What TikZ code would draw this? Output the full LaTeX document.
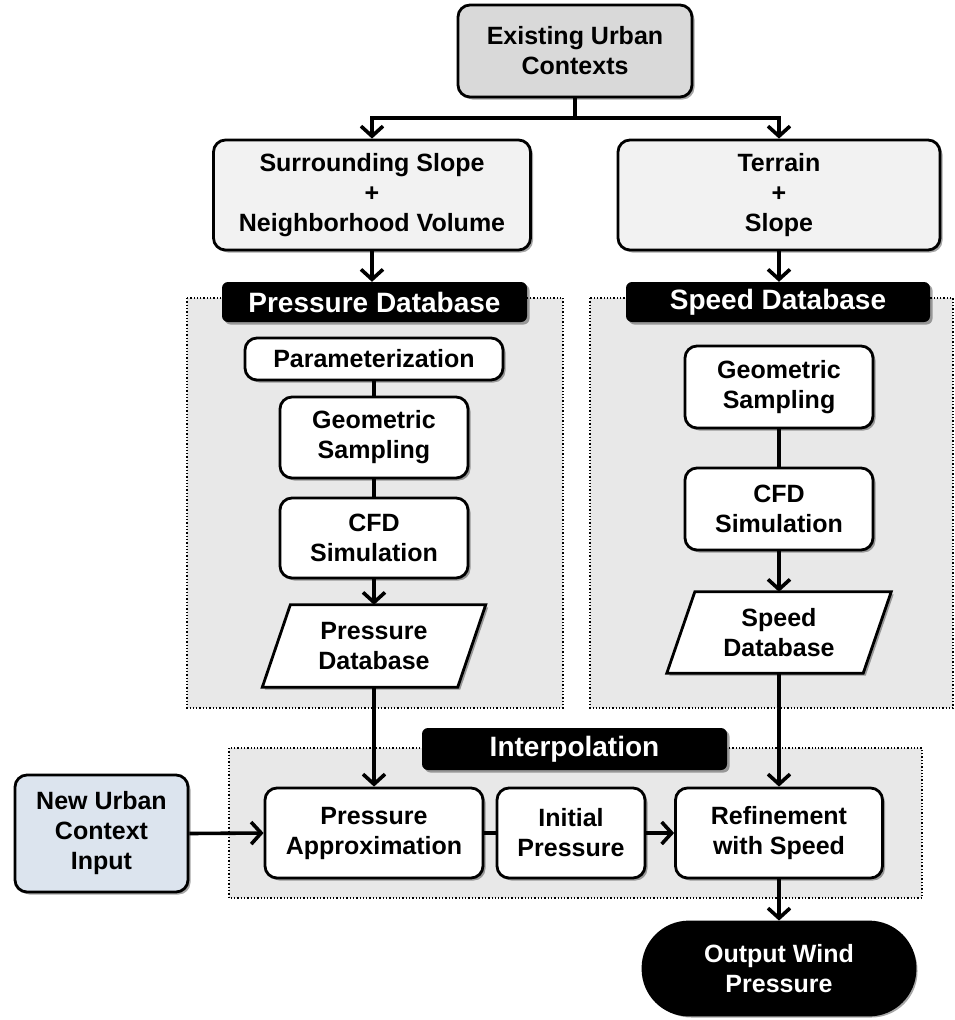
\documentclass[tikz,border=0pt]{standalone}
\usepackage{fontspec}
\setmainfont{Liberation Sans}
\usetikzlibrary{arrows.meta,shadows}
\definecolor{boxgray}{HTML}{D9D9D9}
\definecolor{lightgray}{HTML}{F2F2F2}
\definecolor{inputblue}{HTML}{DCE4EE}
\definecolor{regionfill}{HTML}{E8E8E8}
\tikzset{
  shade/.style={drop shadow={shadow xshift=2.5pt,shadow yshift=-2.5pt,opacity=0.35,fill=black}},
  boxfont/.style={font=\bfseries\fontsize{25}{30}\selectfont},
  box/.style={draw,line width=2.8pt,rounded corners=12pt,fill=white,align=center,
    inner sep=0pt,boxfont,shade},
  datalabel/.style={fill=black,rounded corners=6pt,text=white,inner sep=0pt,
    font=\bfseries\fontsize{28}{30}\selectfont,shade},
  region/.style={draw,dotted,line width=1.3pt,fill=regionfill},
  ln/.style={line width=3.6pt},
  arr/.style={line width=3.6pt,-{Straight Barb[length=10pt,width=22pt,line width=3.6pt]}},
  sz/.style 2 args={minimum width=#1pt,minimum height=#2pt}
}
\begin{document}
\begin{tikzpicture}[x=1pt,y=-1pt]
\useasboundingbox (0,0) rectangle (955,1020);

% grouped regions
\draw[region] (187,298) rectangle (563,708);
\draw[region] (590,298) rectangle (953,708);
\draw[region] (229,748) rectangle (922,898);

% top of the flow
\node[box,fill=boxgray,sz={234}{92}] (top) at (575,51) {Existing Urban\\Contexts};
\node[box,fill=lightgray,sz={317}{110}] (sur) at (372,195) {Surrounding Slope\\+\\Neighborhood Volume};
\node[box,fill=lightgray,sz={322}{110}] (ter) at (779,195) {Terrain\\+\\Slope};
\coordinate (split) at (575,118);

% database labels
\node[datalabel,sz={305}{40}] (plab) at (374.5,302) {Pressure Database};
\node[datalabel,sz={304}{40}] (slab) at (778,302) {Speed Database};

% pressure database column
\node[box,sz={258}{42}] (par) at (374,359) {Parameterization};
\node[box,sz={188}{81}] (geo1) at (374,437.5) {Geometric\\Sampling};
\node[box,sz={188}{80}] (cfd1) at (374,538) {CFD\\Simulation};
\node[sz={223}{82},inner sep=0pt] (pdb) at (374,646) {};
\draw[line width=2.8pt,fill=white,shade]
  ([xshift=28pt]pdb.north west) -- (pdb.north east) -- ([xshift=-28pt]pdb.south east) -- (pdb.south west) -- cycle;
\node[align=center,boxfont] at (pdb.center) {Pressure\\Database};

% speed database column
\node[box,sz={188}{82}] (geo2) at (779,387) {Geometric\\Sampling};
\node[box,sz={188}{82}] (cfd2) at (779,509) {CFD\\Simulation};
\node[sz={224}{81},inner sep=0pt] (sdb) at (779,632.5) {};
\draw[line width=2.8pt,fill=white,shade]
  ([xshift=28pt]sdb.north west) -- (sdb.north east) -- ([xshift=-28pt]sdb.south east) -- (sdb.south west) -- cycle;
\node[align=center,boxfont] at (sdb.center) {Speed\\Database};

% interpolation stage
\node[datalabel,sz={305}{42}] (ilab) at (574.5,749) {Interpolation};
\node[box,fill=inputblue,sz={173}{117}] (new) at (101.5,833.5) {New Urban\\Context\\Input};
\node[box,sz={218}{90}] (pa) at (374,833) {Pressure\\Approximation};
\node[box,sz={148}{90}] (ip) at (571,833) {Initial\\Pressure};
\node[box,sz={207}{90}] (ref) at (779,833) {Refinement\\with Speed};
\node[box,fill=black,text=white,rounded corners=46pt,sz={272}{93}] (out) at (779,968.5) {Output Wind\\Pressure};

% connectors
\draw[ln] (top.south) -- (split);
\draw[arr] (split) -| (sur.north);
\draw[arr] (split) -| (ter.north);
\draw[arr] (sur.south) -- (sur.south |- plab.north);
\draw[arr] (ter.south) -- (ter.south |- slab.north);
\draw[ln] (par.south) -- (geo1.north);
\draw[ln] (geo1.south) -- (cfd1.north);
\draw[arr] (cfd1.south) -- (pdb.north);
\draw[ln] (geo2.south) -- (cfd2.north);
\draw[arr] (cfd2.south) -- (sdb.north);
\draw[arr] (pdb.south) -- (pa.north);
\draw[arr] (sdb.south) -- (ref.north);
\draw[arr] (new.east) -- (pa.west);
\draw[ln] (pa.east) -- (ip.west);
\draw[arr] (ip.east) -- (ref.west);
\draw[arr] (ref.south) -- (out.north);
\end{tikzpicture}
\end{document}
